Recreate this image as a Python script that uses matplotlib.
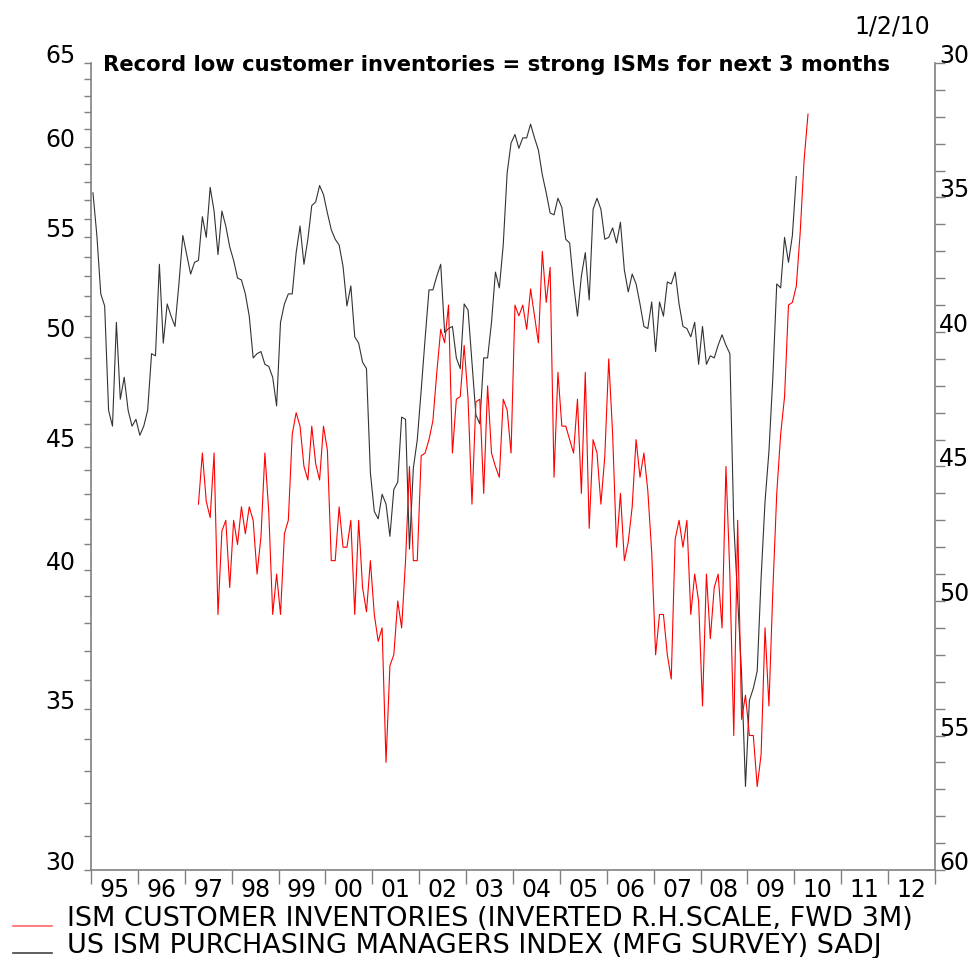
import matplotlib
matplotlib.use("Agg")
from matplotlib import pyplot as plt
from matplotlib.ticker import FixedLocator, FixedFormatter, NullFormatter
from matplotlib.lines import Line2D
import pandas as pd

plt.rcParams['font.family'] = ['DejaVu Sans']

# US ISM purchasing managers index, monthly from Jan 1995
pmi_start = "1995-01"
pmi = [
    57.4, 55.1, 52.1, 51.5, 46.6, 45.9, 50.7, 47.1, 48.1, 46.6, 45.9, 46.2,  # 95
    45.5, 45.9, 46.6, 49.2, 49.1, 53.6, 49.7, 51.6, 51.0, 50.5, 52.6, 55.1,  # 96
    54.1, 53.1, 53.7, 53.8, 56.1, 55.0, 57.7, 56.4, 54.1, 56.4, 55.6, 54.5,  # 97
    53.8, 52.9, 52.8, 52.1, 51.0, 49.0, 49.2, 49.3, 48.7, 48.6, 48.1, 46.8,  # 98
    50.7, 51.6, 52.1, 52.1, 54.2, 55.6, 53.6, 54.9, 56.7, 56.9, 57.8, 57.3,  # 99
    56.3, 55.4, 54.9, 54.6, 53.5, 51.5, 52.5, 50.0, 49.7, 48.8, 48.5, 43.9,  # 00
    42.3, 42.0, 43.0, 42.6, 41.3, 43.2, 43.5, 46.3, 46.2, 40.8, 44.1, 45.3,  # 01
    47.5, 49.9, 52.3, 52.3, 53.0, 53.6, 50.2, 50.4, 50.5, 49.0, 48.5, 51.6,  # 02
    51.3, 48.8, 46.4, 46.0, 49.0, 49.0, 50.7, 53.2, 52.4, 54.6, 58.5, 60.2,  # 03
    60.7, 59.9, 60.5, 60.5, 61.3, 60.5, 59.8, 58.4, 57.4, 56.3, 56.2, 57.1,  # 04
    56.6, 54.9, 54.7, 52.6, 51.0, 53.0, 54.2, 51.8, 56.5, 57.1, 56.5, 54.9,  # 05
    55.0, 55.5, 54.7, 55.8, 53.3, 52.2, 53.1, 52.6, 51.6, 50.5, 50.4, 51.7,  # 06
    49.3, 51.7, 51.0, 52.7, 52.6, 53.2, 51.6, 50.5, 50.4, 50.0, 50.7, 48.7,  # 07
    50.5, 48.7, 49.1, 49.0, 49.6, 50.1, 49.6, 49.2, 41.8, 38.9, 36.2, 32.5,  # 08
    35.3, 35.7, 36.3, 39.7, 42.7, 44.8, 48.1, 52.6, 52.4, 55.0, 53.7, 55.1,  # 09
    58.3,                                                                    # 10
]

# ISM customer inventories, monthly from Jan 1997, drawn 3 months forward
inv_start = "1997-01"
inv_shift = 3
inv = [
    46.4, 44.5, 46.3, 46.9, 44.5, 50.5, 47.4, 47.0, 49.5,
    47.0, 47.9, 46.5, 47.5, 46.5, 47.0, 49.0, 47.6, 44.5, 46.7, 50.5, 49.0,
    50.5, 47.5, 47.0, 43.8, 43.0, 43.5, 45.0, 45.5, 43.5, 44.9, 45.5, 43.5,
    44.4, 48.5, 48.5, 46.5, 48.0, 48.0, 47.0, 50.5, 47.0, 49.5, 50.4, 48.5,
    50.5, 51.5, 51.0, 56.0, 52.4, 52.0, 50.0, 51.0, 48.5, 45.0, 48.5, 48.5,
    44.6, 44.5, 44.0, 43.3, 41.5, 39.9, 40.4, 39.0, 44.5, 42.5, 42.4, 40.5,
    42.5, 46.4, 42.6, 42.5, 46.0, 42.0, 44.5, 45.0, 45.4, 42.5, 42.9, 44.5,
    39.0, 39.4, 39.0, 39.9, 38.4, 39.4, 40.4, 37.0, 38.9, 37.6, 45.4, 41.5,
    43.5, 43.5, 44.0, 44.5, 42.5, 46.0, 41.5, 47.3, 44.0, 44.5, 46.4, 44.6,
    41.0, 43.8, 48.0, 46.0, 48.5, 47.8, 46.5, 44.0, 45.4, 44.5, 45.9, 48.2,
    52.0, 50.5, 50.5, 52.0, 52.9, 47.7, 47.0, 48.0, 47.0, 50.5, 49.0, 50.0,
    53.9, 49.0, 51.4, 49.5, 49.0, 51.0, 45.0, 49.0, 55.0, 47.0, 54.4, 53.5,
    55.0, 55.0, 56.9, 55.7, 51.0, 53.9, 49.6, 46.0, 43.8, 42.4, 39.0, 38.9,
    38.3, 36.3, 33.6, 31.9,
]

left_ticks = [30, 35, 40, 45, 50, 55, 60, 65]
right_ticks = [30, 35, 40, 45, 50, 55, 60]
years = list(range(1995, 2013))
year_labels = ["%02d" % (y % 100) for y in years]

title = "Record low customer inventories = strong ISMs for next 3 months"
date_note = "1/2/10"
legend_labels = ["ISM CUSTOMER INVENTORIES (INVERTED R.H.SCALE, FWD 3M)",
                 "US ISM PURCHASING MANAGERS INDEX (MFG SURVEY) SADJ"]


def dec_year(dates):
    return [d.year + (d.month - 0.5) / 12 for d in dates]


pmi_dates = pd.date_range(pmi_start, periods=len(pmi), freq="MS")
inv_dates = pd.date_range(inv_start, periods=len(inv), freq="MS") + pd.DateOffset(months=inv_shift)

W, H = 973, 958
fig = plt.figure(figsize=(W / 100, H / 100), dpi=100)
ax = fig.add_axes([91 / W, 1 - 870 / H, (935 - 91) / W, (870 - 63) / H])
ax2 = ax.twinx()

ax.plot(dec_year(pmi_dates), pmi, color="#333333", lw=0.8)
ax2.plot(dec_year(inv_dates), inv, color="#ff0000", lw=0.8)

grey = "#808080"
fs = 17

ax.set_xlim(1995, 2013)
ax.set_yscale("log")
ax.set_ylim(30, 65)
ax.yaxis.set_major_locator(FixedLocator(left_ticks))
ax.yaxis.set_major_formatter(FixedFormatter([str(t) for t in left_ticks]))
ax.yaxis.set_minor_locator(FixedLocator([v for v in range(31, 65) if v % 5]))
ax.yaxis.set_minor_formatter(NullFormatter())
ax.tick_params(axis="y", which="both", length=5, width=1, color=grey,
               labelsize=fs, pad=6)

ax2.set_ylim(60, 30)
ax2.yaxis.set_major_locator(FixedLocator(right_ticks))
ax2.yaxis.set_major_formatter(FixedFormatter([str(t) for t in right_ticks]))
ax2.yaxis.set_minor_locator(FixedLocator([v for v in range(31, 60) if v % 5]))
ax2.yaxis.set_minor_formatter(NullFormatter())
ax2.tick_params(axis="y", which="both", length=7, width=1, color=grey,
                labelsize=fs, pad=-4)

ax.set_xticks(list(range(1995, 2014)))
ax.set_xticks([y + 0.5 for y in years], minor=True)
ax.set_xticklabels([], minor=False)
ax.set_xticklabels(year_labels, minor=True)
ax.tick_params(axis="x", which="major", length=10, width=1, color=grey)
ax.tick_params(axis="x", which="minor", length=0, labelsize=fs, pad=6)

for a in (ax, ax2):
    a.spines["top"].set_visible(False)
    for s in ("left", "right", "bottom"):
        a.spines[s].set_color(grey)
        a.spines[s].set_linewidth(1.2)
ax.spines["right"].set_visible(False)
ax2.spines["left"].set_visible(False)
ax2.spines["bottom"].set_visible(False)

for lab in ax.get_yticklabels() + ax2.get_yticklabels():
    lab.set_verticalalignment("baseline")

fig.text(103 / W, 1 - 71 / H, title, fontsize=15.2, fontweight="bold",
         va="baseline", ha="left")
fig.text(930 / W, 1 - 33 / H, date_note, fontsize=fs, va="baseline", ha="right")

for k, (lab, col) in enumerate(zip(legend_labels, ["#ff6666", "#444444"])):
    yb = 1 - (926 + 27 * k) / H
    fig.add_artist(Line2D([13 / W, 52 / W], [yb, yb], transform=fig.transFigure,
                          color=col, lw=1.2))
    fig.text(67 / W, yb, lab, fontsize=19.5, va="baseline", ha="left")

fig.savefig("out.png", dpi=100)
